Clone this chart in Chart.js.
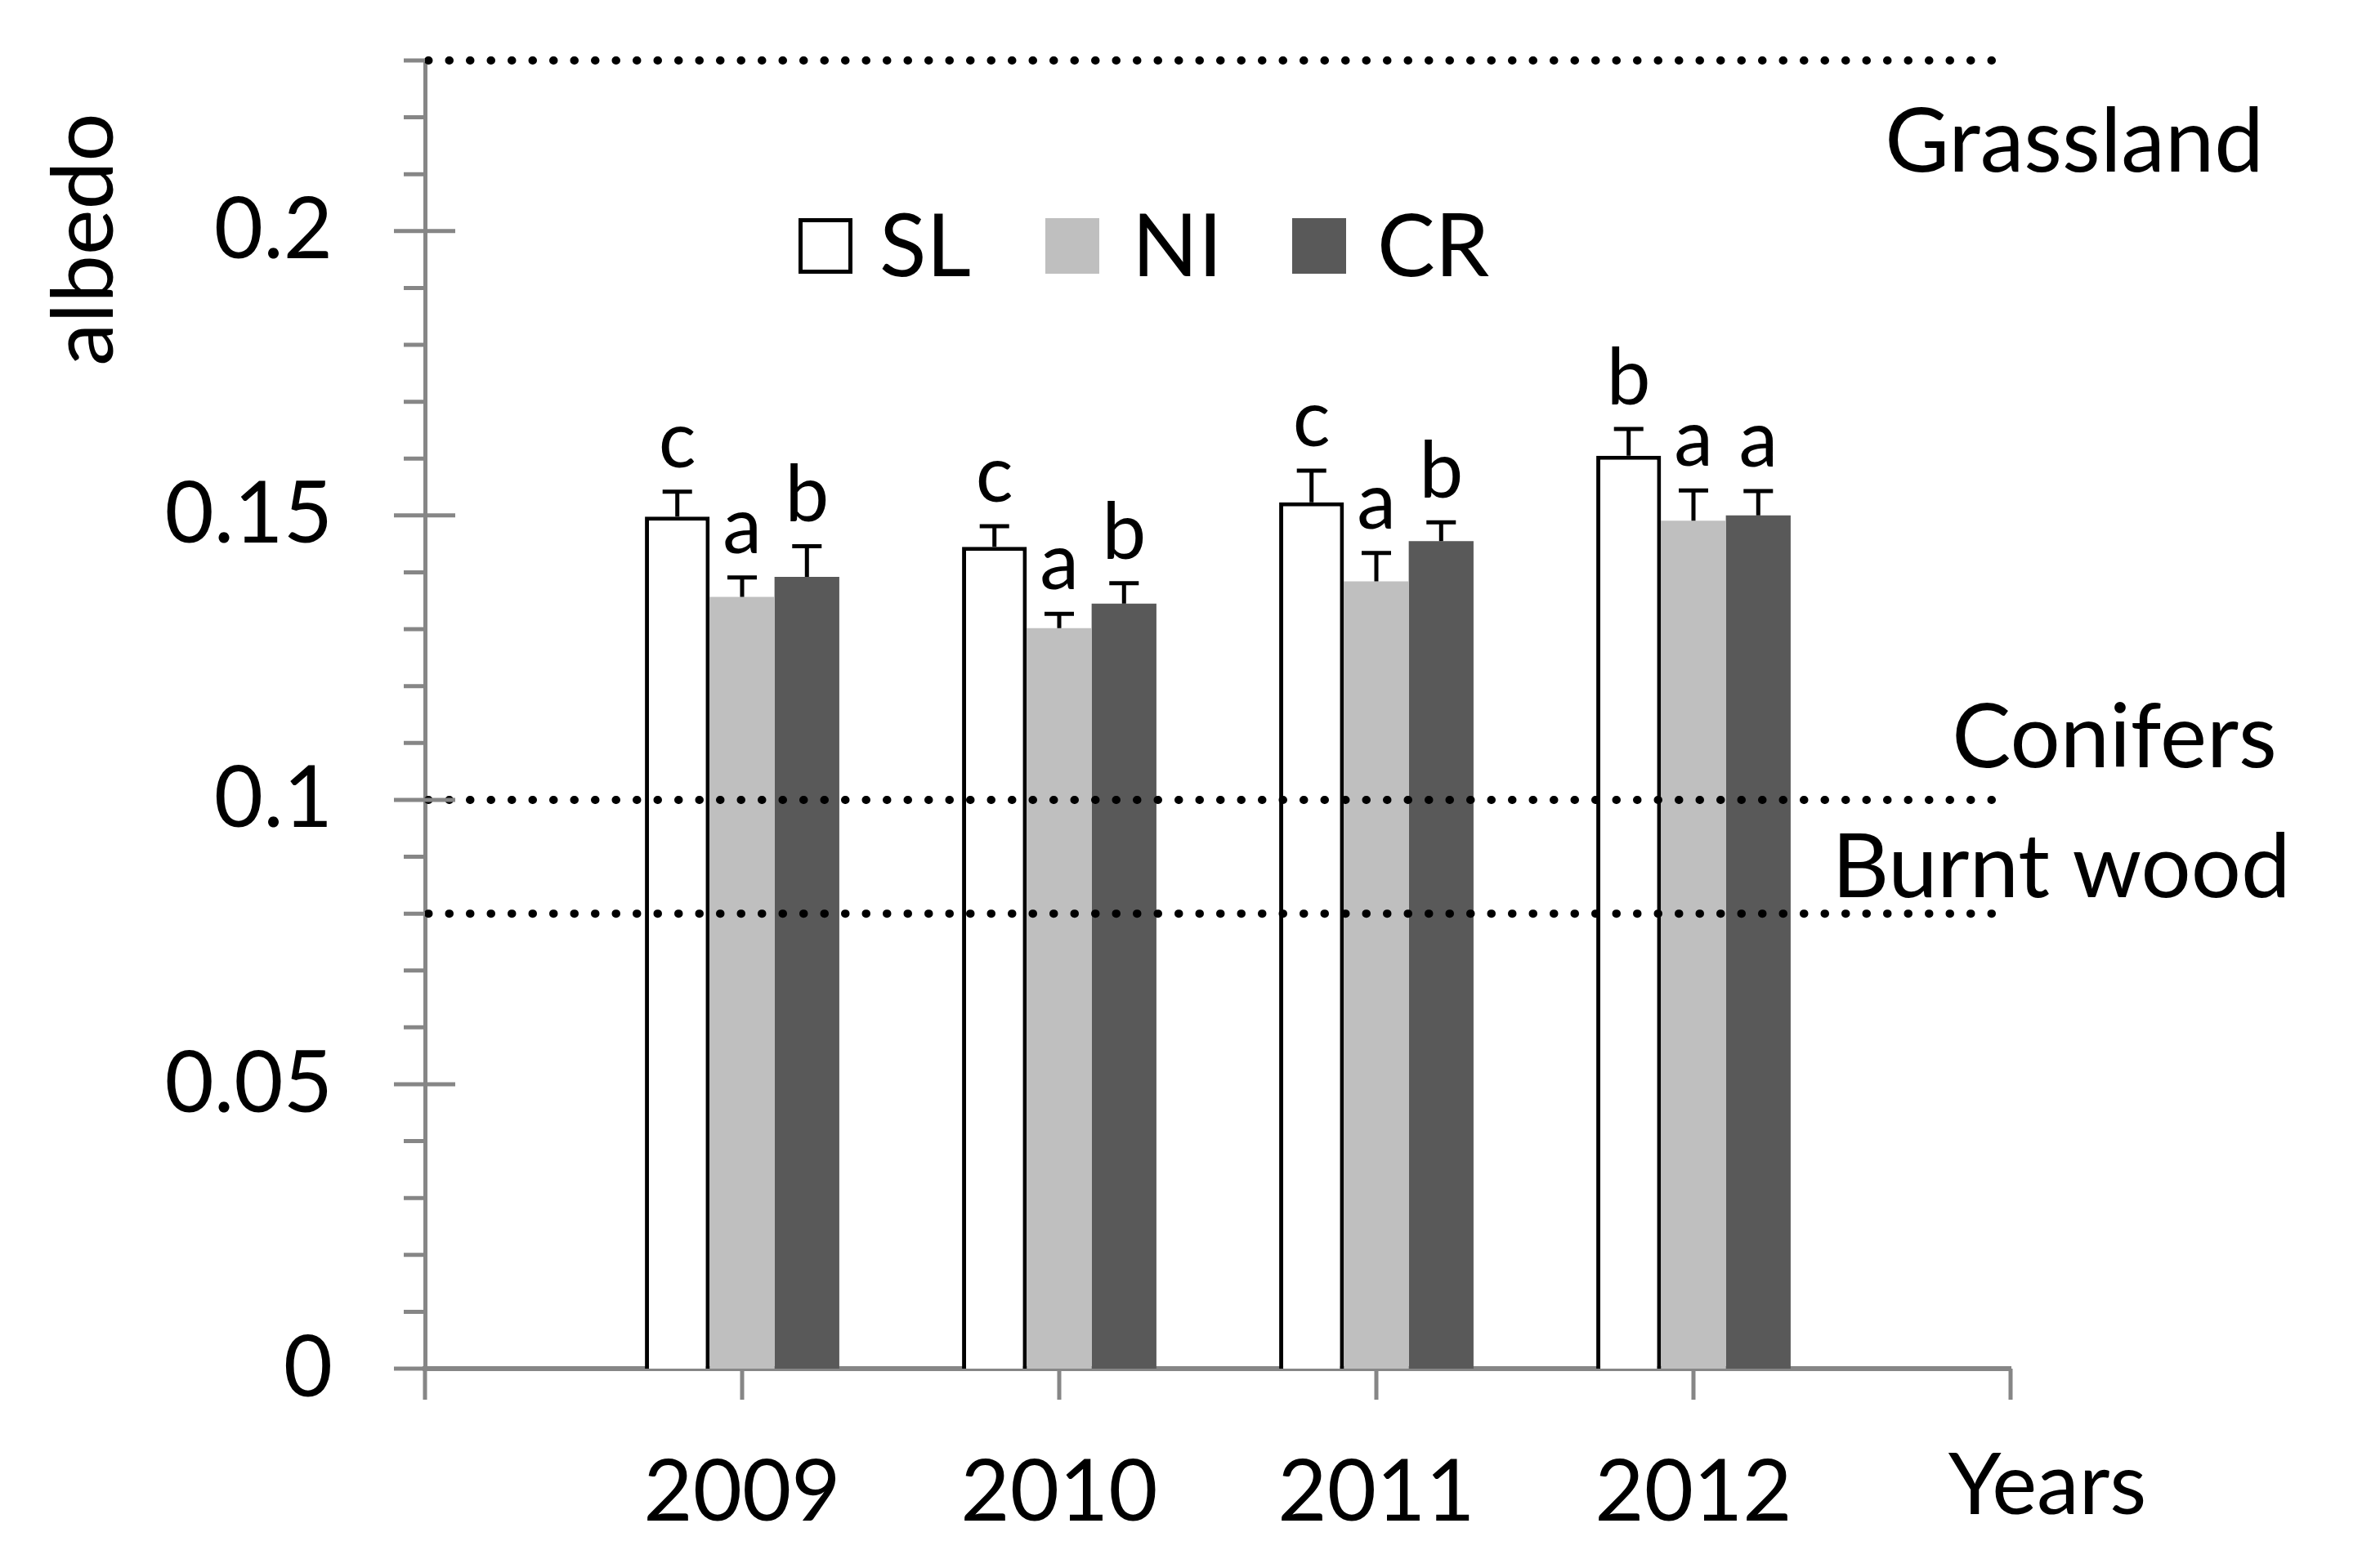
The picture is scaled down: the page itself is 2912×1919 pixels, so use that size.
<!DOCTYPE html>
<html>
<head>
<meta charset="utf-8">
<title>Albedo by year</title>
<script src="https://cdn.jsdelivr.net/npm/chart.js@4.4.1/dist/chart.umd.min.js"></script>
<style>
  html, body { margin: 0; padding: 0; background: #ffffff; }
  #wrap { width: 2912px; height: 1919px; }
</style>
</head>
<body>
<div id="wrap"><canvas id="albedoChart" width="2912" height="1919"></canvas></div>
<script>
// ==============================================================================
// 1. DATA
// ==============================================================================
const years = ['2009', '2010', '2011', '2012'];
const seriesNames = ['SL', 'NI', 'CR'];

const slValues = [0.1498, 0.1445, 0.1523, 0.1605];
const niValues = [0.1357, 0.1302, 0.1384, 0.1491];
const crValues = [0.1392, 0.1345, 0.1455, 0.1500];

// upper error (only the + side is drawn)
const slErrors = [0.0044, 0.0036, 0.0056, 0.0047];
const niErrors = [0.0034, 0.0025, 0.0050, 0.0053];
const crErrors = [0.0054, 0.0036, 0.0033, 0.0043];

// significance letters above each bar
const slLetters = ['c', 'c', 'c', 'b'];
const niLetters = ['a', 'a', 'a', 'a'];
const crLetters = ['b', 'b', 'b', 'a'];

const yTickLabels = ['0', '0.05', '0.1', '0.15', '0.2'];
const yMax = 0.23;

// reference albedo of other land covers (dotted lines)
const refValues = [0.23, 0.1, 0.08];
const refLabels = ['Grassland', 'Conifers', 'Burnt wood'];

// ==============================================================================
// 2. STYLE
// ==============================================================================
const FONT = 'Lato';
const AXIS_GREY = '#868686';
const colors = { SL: '#ffffff', NI: '#bfbfbf', CR: '#595959' };

// empty slot at each end so the years sit on the inner tick marks
const xLabels = [''].concat(years, ['']);
const pad = arr => [null].concat(arr, [null]);

function fmtTick(v) {
    return String(Math.round(v * 100) / 100);
}

// ==============================================================================
// 3. PLUGIN: error bars, letters, reference lines, legend, titles, tick marks
// ==============================================================================
const decorPlugin = {
    id: 'decor',
    afterDatasetsDraw(chart) {
        const ctx = chart.ctx;
        const y = chart.scales.y;
        const area = chart.chartArea;
        ctx.save();

        // error bars + letters
        chart.data.datasets.forEach((ds, di) => {
            const meta = chart.getDatasetMeta(di);
            meta.data.forEach((bar, i) => {
                const v = ds.data[i];
                if (v === null || v === undefined) return;
                const capY = y.getPixelForValue(v + ds.errors[i]);
                ctx.strokeStyle = '#000';
                ctx.lineWidth = 5;
                ctx.lineCap = 'butt';
                ctx.setLineDash([]);
                ctx.beginPath();
                ctx.moveTo(bar.x, bar.y);
                ctx.lineTo(bar.x, capY);
                ctx.moveTo(bar.x - 18, capY);
                ctx.lineTo(bar.x + 18, capY);
                ctx.stroke();

                ctx.fillStyle = '#000';
                ctx.font = '96px ' + FONT;
                ctx.textAlign = 'center';
                ctx.textBaseline = 'alphabetic';
                ctx.fillText(ds.letters[i], bar.x, capY - 30);
            });
        });

        // dotted reference lines + their labels
        const labelPos = [
            { cx: 2538, dy: 136 },
            { cx: 2587, dy: -40 },
            { cx: 2522, dy: -20 }
        ];
        refValues.forEach((v, k) => {
            const py = y.getPixelForValue(v);
            ctx.strokeStyle = '#000';
            ctx.lineWidth = 10;
            ctx.lineCap = 'round';
            ctx.setLineDash([0.5, 25]);
            ctx.beginPath();
            ctx.moveTo(area.left + 4, py);
            ctx.lineTo(area.right - 15, py);
            ctx.stroke();

            ctx.setLineDash([]);
            ctx.fillStyle = '#000';
            ctx.font = '108px ' + FONT;
            ctx.textAlign = 'center';
            ctx.textBaseline = 'alphabetic';
            ctx.fillText(refLabels[k], labelPos[k].cx, py + labelPos[k].dy);
        });
        ctx.restore();
    },
    afterDraw(chart) {
        const ctx = chart.ctx;
        const x = chart.scales.x;
        const y = chart.scales.y;
        const area = chart.chartArea;
        ctx.save();

        // tick marks: major ones cross the axis, minor ones sit outside
        ctx.strokeStyle = AXIS_GREY;
        ctx.lineWidth = 5;
        ctx.setLineDash([]);
        ctx.beginPath();
        y.ticks.forEach(t => {
            const py = y.getPixelForValue(t.value);
            const major = yTickLabels.includes(fmtTick(t.value));
            ctx.moveTo(major ? area.left - 38 : area.left - 26, py);
            ctx.lineTo(major ? area.left + 37 : area.left, py);
        });
        x.ticks.forEach((t, i) => {
            const px = x.getPixelForTick(i);
            ctx.moveTo(px, area.bottom);
            ctx.lineTo(px, area.bottom + 38);
        });
        ctx.stroke();

        // legend
        const boxX = [977, 1279, 1581];
        const textX = [1076, 1385, 1685];
        ctx.font = '106px ' + FONT;
        ctx.textAlign = 'left';
        ctx.textBaseline = 'alphabetic';
        chart.data.datasets.forEach((ds, di) => {
            ctx.fillStyle = ds.backgroundColor;
            ctx.fillRect(boxX[di], 267, 66, 68);
            if (ds.borderWidth > 0) {
                ctx.strokeStyle = '#000';
                ctx.lineWidth = 5;
                ctx.strokeRect(boxX[di] + 2.5, 269.5, 61, 63);
            }
            ctx.fillStyle = '#000';
            ctx.fillText(ds.label, textX[di], 338);
        });

        // axis titles
        ctx.font = '105px ' + FONT;
        ctx.fillStyle = '#000';
        ctx.save();
        ctx.translate(138, 293);
        ctx.rotate(-Math.PI / 2);
        ctx.textAlign = 'center';
        ctx.fillText('albedo', 0, 0);
        ctx.restore();

        ctx.font = '104px ' + FONT;
        ctx.textAlign = 'center';
        ctx.fillText('Years', area.right + 45, area.bottom + 178);

        ctx.restore();
    }
};

// ==============================================================================
// 4. CHART
// ==============================================================================
function renderAlbedoChart() {
    const canvas = document.getElementById('albedoChart');
    const ctx = canvas.getContext('2d');

    const valueSets = [slValues, niValues, crValues];
    const errorSets = [slErrors, niErrors, crErrors];
    const letterSets = [slLetters, niLetters, crLetters];

    const datasets = seriesNames.map((name, k) => ({
        label: name,
        data: pad(valueSets[k]),
        errors: pad(errorSets[k]),
        letters: pad(letterSets[k]),
        backgroundColor: colors[name],
        borderColor: '#000000',
        borderWidth: name === 'SL' ? 5 : 0,
        borderSkipped: 'bottom',
        categoryPercentage: 0.613,
        barPercentage: 1.0
    }));

    new Chart(ctx, {
        type: 'bar',
        data: { labels: xLabels, datasets: datasets },
        options: {
            responsive: false,
            devicePixelRatio: 1,
            animation: false,
            events: [],
            layout: {
                autoPadding: false,
                padding: { left: 0, right: 452, top: 74, bottom: 0 }
            },
            plugins: {
                legend: { display: false },
                tooltip: { enabled: false },
                title: { display: false }
            },
            scales: {
                x: {
                    type: 'category',
                    offset: false,
                    grid: { display: false, offset: false, drawTicks: false },
                    border: { display: true, color: AXIS_GREY, width: 6 },
                    ticks: {
                        color: '#000',
                        font: { family: FONT, size: 104 },
                        padding: 90,
                        maxRotation: 0,
                        autoSkip: false
                    },
                    afterFit: s => {
                        s.height = 244;
                        s.paddingLeft = 0;
                        s.paddingRight = 0;
                    }
                },
                y: {
                    min: 0,
                    max: yMax,
                    grid: { display: false, drawTicks: false },
                    border: { display: true, color: AXIS_GREY, width: 5 },
                    ticks: {
                        stepSize: 0.01,
                        color: '#000',
                        font: { family: FONT, size: 104 },
                        padding: 113,
                        autoSkip: false,
                        callback: v => {
                            const s = fmtTick(v);
                            return yTickLabels.includes(s) ? s : '';
                        }
                    },
                    afterFit: s => {
                        s.width = 520;
                        s.paddingTop = 0;
                        s.paddingBottom = 0;
                    }
                }
            }
        },
        plugins: [decorPlugin]
    });
}

renderAlbedoChart();
</script>
</body>
</html>
